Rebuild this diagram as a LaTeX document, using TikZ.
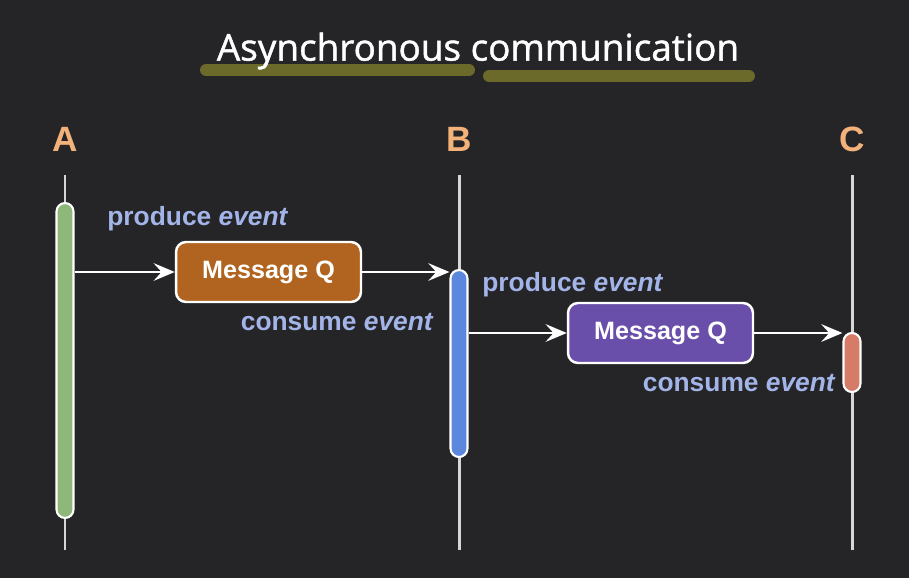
\documentclass[tikz,border=0pt]{standalone}
\usepackage{fontspec}
\setmainfont{Liberation Sans}
\newfontfamily\titlefont[FakeBold=1.2]{Open Sans}
\usetikzlibrary{arrows.meta,positioning,calc}

\definecolor{bgdark}{HTML}{252427}
\definecolor{lifegrey}{HTML}{D6D6D6}
\definecolor{actorange}{HTML}{F2B27A}
\definecolor{evblue}{HTML}{A3B5E8}
\definecolor{olivebar}{HTML}{6B6A2A}
\definecolor{actgreen}{HTML}{8DB87A}
\definecolor{actblue}{HTML}{5B88DC}
\definecolor{actred}{HTML}{D57B68}
\definecolor{qbrown}{HTML}{B0641F}
\definecolor{qpurple}{HTML}{6A4FAA}

\begin{document}
\begin{tikzpicture}[
    x=0.02cm, y=-0.02cm,
    actor/.style={text=actorange, font=\bfseries\fontsize{20}{24}\selectfont, inner sep=0pt},
    lifeline/.style={draw=lifegrey, line width=1.7pt},
    actbar/.style={rectangle, draw=white, line width=1.2pt, minimum width=0.34cm, rounded corners=0.17cm, inner sep=0pt},
    queue/.style={rectangle, draw=white, line width=1.4pt, rounded corners=0.2cm, minimum width=3.7cm, minimum height=1.2cm, text=white, font=\bfseries\fontsize{14.3}{16}\selectfont},
    msg/.style={-{Stealth[length=12pt, width=10pt, inset=4.5pt]}, draw=white, line width=1.7pt},
    evlabel/.style={text=evblue, font=\bfseries\fontsize{15}{18}\selectfont, inner sep=0pt},
    underbar/.style={draw=olivebar, line width=6.8pt, line cap=round}
]
    % background and page size
    \fill[bgdark] (0,0) rectangle (909,578);
    \useasboundingbox (0,0) rectangle (909,578);

    % title
    \draw[underbar] (206,70) -- (469,70);
    \draw[underbar] (489,76) -- (749,76);
    \node[text=white, font=\titlefont\fontsize{21}{25}\selectfont] (title) at (478,51) {Asynchronous communication};

    % actors and lifelines
    \foreach \name/\x in {A/65, B/459, C/852} {
        \node[actor] (\name) at (\x,139) {\name};
        \coordinate (\name top) at (\x,175);
        \coordinate (\name end) at (\x,550);
        \draw[lifeline] (\name top) -- (\name end);
    }

    % activations
    \node[actbar, fill=actgreen, minimum height=6.3cm] (actA) at (65,360.5) {};
    \node[actbar, fill=actblue, minimum height=3.74cm] (actB) at (459,363.5) {};
    \node[actbar, fill=actred, minimum height=1.18cm] (actC) at (852,362.5) {};

    % queues
    \node[queue, fill=qbrown] (queue1) at (268.5,272) {Message Q};
    \node[queue, fill=qpurple] (queue2) at (660.5,333) {Message Q};

    % messages
    \draw[msg] (queue1.west -| actA.east) -- (queue1.west);
    \draw[msg] (queue1.east) -- (queue1.east -| actB.west);
    \draw[msg] (queue2.west -| actB.east) -- (queue2.west);
    \draw[msg] (queue2.east) -- (queue2.east -| actC.west);

    % event labels
    \node[evlabel, anchor=west] (prod1) at (107,219) {produce \textit{event}};
    \node[evlabel, anchor=east] (cons1) at (434,322) {consume \textit{event}};
    \node[evlabel, anchor=west] (prod2) at (482,285) {produce \textit{event}};
    \node[evlabel, anchor=east] (cons2) at (836,383) {consume \textit{event}};
\end{tikzpicture}
\end{document}
